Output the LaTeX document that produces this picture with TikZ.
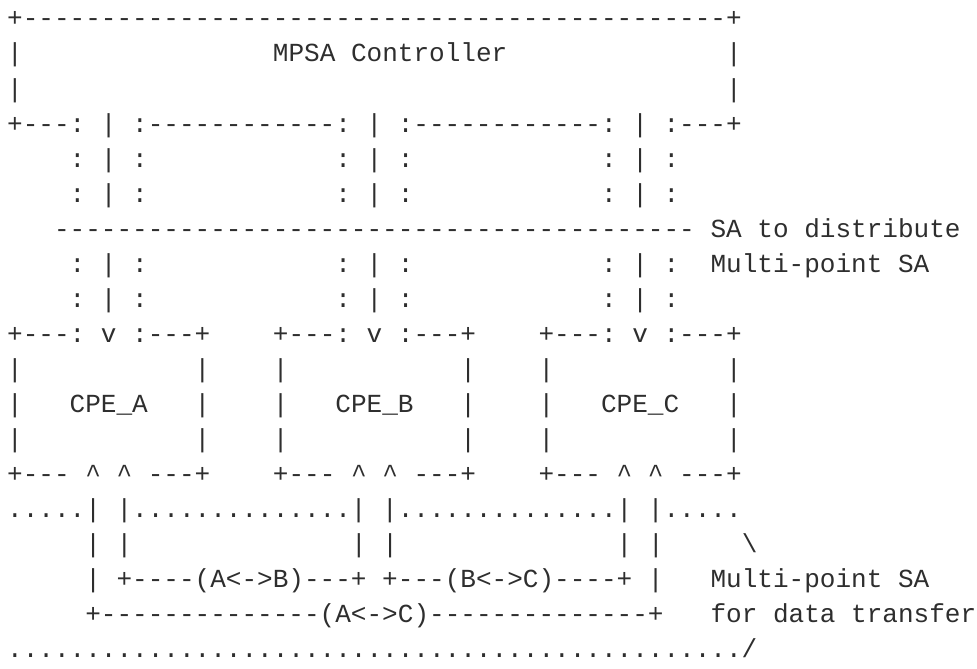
\documentclass[tikz,border=0pt]{standalone}
\usepackage{fontspec}
\setmonofont{Liberation Mono}
\usepackage{tikz}
\definecolor{inkgray}{HTML}{2E2E2E}
% one unit in x is one character cell, one unit in y is one text row
\tikzstyle{ascii} = [anchor=base west, inner sep=0pt, outer sep=0pt, text=inkgray, font=\ttfamily\fontsize{19.53pt}{24pt}\selectfont]
\newcommand{\runof}[2]{\foreach \k in {1,...,#1}{#2}}

\begin{document}
\begin{tikzpicture}[x=11.72pt, y=-26.25pt]
	\useasboundingbox (-0.46,-0.771) rectangle (62.05,18.314);

	% controller box
	\node[ascii] (ctrltop) at (0,0) {+\runof{45}{-}+};
	\node[ascii] (ctrlL1) at (0,1) {|};
	\node[ascii] (ctrlname) at (17,1) {MPSA Controller};
	\node[ascii] (ctrlR1) at (46,1) {|};
	\node[ascii] (ctrlL2) at (0,2) {|};
	\node[ascii] (ctrlR2) at (46,2) {|};
	\node[ascii] (ctrlbot) at (0,3) {+---: | :\runof{12}{-}: | :\runof{12}{-}: | :---+};

	% key distribution channels
	\foreach \c/\n in {4/A,21/B,38/C}{
		\foreach \r in {4,5,7,8}
			\node[ascii] (sa\n\r) at (\c,\r) {: | :};
	}
	\node[ascii] (distline) at (3,6) {\runof{41}{-}};
	\node[ascii] (distnote1) at (45,6) {SA to distribute};
	\node[ascii] (distnote2) at (45,7) {Multi-point SA};

	% CPE boxes
	\foreach \c/\n in {0/A,17/B,34/C}{
		\node[ascii] (cpetop\n) at (\c,9) {+---: v :---+};
		\node[ascii] (cpeL\n) at (\c,10) {|};
		\node[ascii] (cpeR\n) at (\c+12,10) {|};
		\node[ascii] (cpename\n) at (\c,11) {|\ \ \ CPE\_\n\ \ \ |};
		\node[ascii] (cpeLL\n) at (\c,12) {|};
		\node[ascii] (cpeRR\n) at (\c+12,12) {|};
		\node[ascii] (cpebot\n) at (\c,13) {+--- \textasciicircum{} \textasciicircum{} ---+};
	}

	% data transfer SAs
	\node[ascii] (dataline) at (0,14) {\runof{5}{.}| |\runof{14}{.}| |\runof{14}{.}| |\runof{5}{.}};
	\node[ascii] (legA) at (5,15) {| |};
	\node[ascii] (legB) at (22,15) {| |};
	\node[ascii] (legC) at (39,15) {| |};
	\node[ascii] (bracetop) at (47,15) {\textbackslash};
	\node[ascii] (pairs) at (5,16) {| +----(A<->B)---+ +---(B<->C)----+ |};
	\node[ascii] (datanote1) at (45,16) {Multi-point SA};
	\node[ascii] (pairAC) at (5,17) {+\runof{14}{-}(A<->C)\runof{14}{-}+};
	\node[ascii] (datanote2) at (45,17) {for data transfer};
	\node[ascii] (databot) at (0,18) {\runof{47}{.}/};
\end{tikzpicture}
\end{document}
